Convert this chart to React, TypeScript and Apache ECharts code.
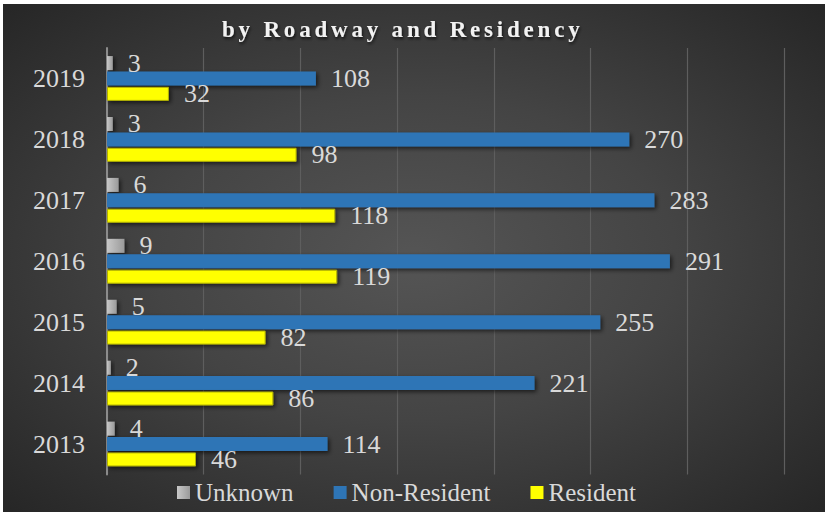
import React, { useEffect, useRef } from "react";
import * as echarts from "echarts";

const years = ["2013", "2014", "2015", "2016", "2017", "2018", "2019"];
const unknownVals = [4, 2, 5, 9, 6, 3, 3];
const nonResidentVals = [114, 221, 255, 291, 283, 270, 108];
const residentVals = [46, 86, 82, 119, 118, 98, 32];
const legendNames = ["Unknown", "Non-Resident", "Resident"];
const titleText = "by Roadway and Residency";

const FONT = "'Liberation Serif', 'DejaVu Serif', serif";
const LABEL_COLOR = "#D9D9D9";

export default function App() {
  const ref = useRef<HTMLDivElement>(null);
  useEffect(() => {
    document.body.style.margin = "0";
    if (!ref.current) return;
    const chart = echarts.init(ref.current, null, { renderer: "svg" });
    const barShadow = {
      shadowBlur: 4,
      shadowColor: "rgba(0,0,0,0.6)",
      shadowOffsetX: 2,
      shadowOffsetY: 2,
    };
    const label = {
      show: true,
      position: "right" as const,
      distance: 15,
      color: LABEL_COLOR,
      fontSize: 26,
      fontFamily: FONT,
    };
    chart.setOption({
      animation: false,
      title: {
        text: titleText,
        left: 214,
        top: 9,
        textStyle: {
          color: "#F2F2F2",
          fontSize: 23,
          fontWeight: "bold",
          fontFamily: FONT,
          textShadowColor: "rgba(0,0,0,0.7)",
          textShadowBlur: 3,
          textShadowOffsetX: 1,
          textShadowOffsetY: 2,
        },
      },
      legend: {
        data: legendNames,
        left: 169,
        top: 471,
        icon: "rect",
        itemWidth: 13,
        itemHeight: 13,
        itemGap: 40,
        itemStyle: { shadowBlur: 0, shadowOffsetX: 0, shadowOffsetY: 0, borderWidth: 0 },
        textStyle: { color: LABEL_COLOR, fontSize: 25, fontFamily: FONT },
      },
      grid: { left: 104, right: 41, top: 44, bottom: 37.5 },
      xAxis: {
        type: "value",
        min: 0,
        max: 350,
        interval: 50,
        axisLabel: { show: false },
        axisLine: { show: false },
        axisTick: { show: false },
        splitLine: { lineStyle: { color: "#5E5E5E", width: 1.2 } },
      },
      yAxis: {
        type: "category",
        data: years,
        axisTick: { show: false },
        axisLine: { lineStyle: { color: "#8C8C8C", width: 2 } },
        axisLabel: { color: LABEL_COLOR, fontSize: 26, fontFamily: FONT, margin: 22 },
      },
      series: [
        {
          name: "Unknown",
          type: "bar",
          data: unknownVals,
          barWidth: 14,
          barGap: "10%",
          itemStyle: {
            color: new echarts.graphic.LinearGradient(0, 0, 1, 0, [
              { offset: 0, color: "#C8C8C8" },
              { offset: 1, color: "#9A9A9A" },
            ]),
            ...barShadow,
          },
          label,
        },
        {
          name: "Non-Resident",
          type: "bar",
          data: nonResidentVals,
          barWidth: 14,
          barGap: "10%",
          itemStyle: { color: "#2E75B6", ...barShadow },
          label,
        },
        {
          name: "Resident",
          type: "bar",
          data: residentVals,
          barWidth: 14,
          barGap: "10%",
          itemStyle: { color: "#FFFF00", borderColor: "#B3B300", borderWidth: 1, ...barShadow },
          label,
        },
      ],
    });
    const svg = ref.current.querySelector("svg");
    if (svg) {
      svg.querySelectorAll("text").forEach((t) => {
        if (t.textContent === titleText) t.setAttribute("letter-spacing", "3.8");
      });
    }
    return () => chart.dispose();
  }, []);
  return (
    <div style={{ position: "fixed", left: 0, top: 0, width: 830, height: 512, background: "#fff" }}>
      <div
        style={{
          position: "absolute",
          left: 3,
          top: 4,
          width: 822,
          height: 508,
          background: "radial-gradient(ellipse at 50% 50%, #555555 0%, #444444 45%, #262626 100%)",
        }}
      >
        <div ref={ref} style={{ width: 822, height: 508 }} />
      </div>
    </div>
  );
}
